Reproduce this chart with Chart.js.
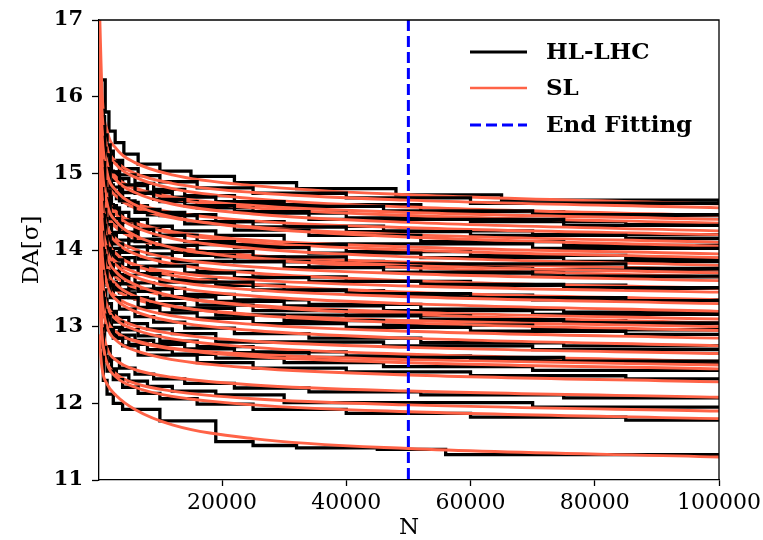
<!DOCTYPE html>
<html>
<head>
<meta charset="utf-8">
<script src="https://cdn.jsdelivr.net/npm/chart.js@4.4.0/dist/chart.umd.min.js"></script>
<style>
html, body { margin: 0; padding: 0; background: #fff; }
</style>
</head>
<body>
<canvas id="daChart" width="763" height="540"></canvas>
<script>
// Turn numbers where each SL fit curve is sampled
const N_FIT = [200, 700, 1500, 3000, 6000, 12000, 25000, 50000, 100000];
const X_TICKS = [20000, 40000, 60000, 80000, 100000];
const Y_TICKS = [11, 12, 13, 14, 15, 16, 17];
const END_FIT = 50000;

// SL fits, DA at each N_FIT point
const slCurves = [
    [17.40, 16.04, 15.56, 15.32, 15.14, 14.98, 14.84, 14.72, 14.60],
    [16.55, 15.75, 15.35, 15.15, 15.00, 14.87, 14.75, 14.65, 14.55],
    [16.65, 15.77, 15.33, 15.11, 14.95, 14.80, 14.67, 14.56, 14.45],
    [16.20, 15.48, 15.12, 14.94, 14.81, 14.69, 14.58, 14.49, 14.40],
    [16.35, 15.55, 15.15, 14.95, 14.80, 14.67, 14.55, 14.45, 14.35],
    [16.45, 15.57, 15.13, 14.91, 14.75, 14.60, 14.47, 14.36, 14.25],
    [16.00, 15.28, 14.92, 14.74, 14.61, 14.49, 14.38, 14.29, 14.20],
    [16.10, 15.30, 14.90, 14.70, 14.55, 14.42, 14.30, 14.20, 14.10],
    [16.45, 15.49, 15.01, 14.77, 14.59, 14.43, 14.29, 14.17, 14.05],
    [15.75, 15.03, 14.67, 14.49, 14.36, 14.24, 14.13, 14.04, 13.95],
    [15.90, 15.10, 14.70, 14.50, 14.35, 14.22, 14.10, 14.00, 13.90],
    [16.00, 15.12, 14.68, 14.46, 14.30, 14.15, 14.02, 13.91, 13.80],
    [15.55, 14.83, 14.47, 14.29, 14.16, 14.04, 13.93, 13.84, 13.75],
    [15.70, 14.90, 14.50, 14.30, 14.15, 14.02, 13.90, 13.80, 13.70],
    [16.05, 15.09, 14.61, 14.37, 14.19, 14.03, 13.89, 13.77, 13.65],
    [15.40, 14.68, 14.32, 14.14, 14.01, 13.89, 13.78, 13.69, 13.60],
    [15.50, 14.70, 14.30, 14.10, 13.95, 13.82, 13.70, 13.60, 13.50],
    [15.05, 14.41, 14.09, 13.93, 13.81, 13.71, 13.61, 13.53, 13.45],
    [15.35, 14.55, 14.15, 13.95, 13.80, 13.67, 13.55, 13.45, 13.35],
    [15.10, 14.38, 14.02, 13.84, 13.71, 13.59, 13.48, 13.39, 13.30],
    [15.20, 14.40, 14.00, 13.80, 13.65, 13.52, 13.40, 13.30, 13.20],
    [14.90, 14.18, 13.82, 13.64, 13.51, 13.39, 13.28, 13.19, 13.10],
    [15.25, 14.37, 13.93, 13.71, 13.55, 13.40, 13.27, 13.16, 13.05],
    [14.60, 13.96, 13.64, 13.48, 13.36, 13.26, 13.16, 13.08, 13.00],
    [14.95, 14.15, 13.75, 13.55, 13.40, 13.27, 13.15, 13.05, 12.95],
    [14.65, 13.93, 13.57, 13.39, 13.26, 13.14, 13.03, 12.94, 12.85],
    [14.75, 13.95, 13.55, 13.35, 13.20, 13.07, 12.95, 12.85, 12.75],
    [14.25, 13.61, 13.29, 13.13, 13.01, 12.91, 12.81, 12.73, 12.65],
    [14.35, 13.63, 13.27, 13.09, 12.96, 12.84, 12.73, 12.64, 12.55],
    [13.90, 13.34, 13.06, 12.92, 12.82, 12.72, 12.64, 12.57, 12.50],
    [14.05, 13.41, 13.09, 12.93, 12.81, 12.71, 12.61, 12.53, 12.45],
    [14.08, 13.36, 13.00, 12.82, 12.69, 12.57, 12.46, 12.37, 12.28],
    [13.68, 13.04, 12.72, 12.56, 12.44, 12.34, 12.24, 12.16, 12.08],
    [13.50, 12.86, 12.54, 12.38, 12.26, 12.16, 12.06, 11.98, 11.90],
    [13.60, 12.88, 12.52, 12.34, 12.21, 12.09, 11.98, 11.89, 11.80],
    [12.90, 12.45, 12.25, 12.10, 11.92, 11.72, 11.54, 11.41, 11.30]
];

// HL-LHC tracking results, [N, DA]; DA holds until the next N
const hlCurves = [
    [[500, 16.22], [1200, 15.8], [1800, 15.55], [2800, 15.4], [4200, 15.25], [6500, 15.12], [10000, 15.03], [15000, 14.96], [22000, 14.88], [32000, 14.8], [48000, 14.72], [65000, 14.65], [100000, 14.62]],
    [[500, 15.82], [900, 15.5], [1500, 15.29], [2500, 15.17], [4000, 15.06], [6500, 14.97], [10000, 14.89], [16000, 14.81], [25000, 14.74], [40000, 14.68], [60000, 14.61], [100000, 14.61]],
    [[500, 15.74], [1100, 15.37], [2000, 15.15], [3500, 14.98], [6000, 14.87], [9000, 14.79], [14000, 14.71], [22000, 14.59], [52000, 14.5], [75000, 14.45], [100000, 14.45]],
    [[500, 15.6], [800, 15.33], [1300, 15.13], [2200, 15.02], [3000, 14.93], [5000, 14.84], [8000, 14.75], [12000, 14.69], [19000, 14.63], [30000, 14.57], [46000, 14.51], [70000, 14.46], [100000, 14.46]],
    [[500, 15.56], [900, 15.24], [1500, 15.03], [2500, 14.91], [4000, 14.75], [10000, 14.63], [16000, 14.55], [25000, 14.48], [40000, 14.42], [60000, 14.37], [85000, 14.33], [100000, 14.33]],
    [[500, 15.61], [1100, 15.24], [2000, 15.02], [3500, 14.85], [6000, 14.74], [9000, 14.66], [14000, 14.58], [22000, 14.5], [34000, 14.4], [75000, 14.32], [100000, 14.32]],
    [[500, 15.34], [800, 15.07], [1300, 14.87], [2200, 14.76], [3000, 14.67], [5000, 14.58], [8000, 14.46], [19000, 14.37], [30000, 14.31], [46000, 14.25], [70000, 14.2], [100000, 14.2]],
    [[500, 15.38], [900, 15.06], [1500, 14.85], [2500, 14.73], [4000, 14.62], [6500, 14.53], [10000, 14.45], [16000, 14.37], [25000, 14.3], [40000, 14.24], [60000, 14.19], [85000, 14.15], [100000, 14.15]],
    [[500, 15.47], [1100, 15.06], [2000, 14.82], [3500, 14.64], [6000, 14.49], [14000, 14.34], [22000, 14.26], [34000, 14.19], [52000, 14.11], [75000, 14.06], [100000, 14.06]],
    [[500, 15.16], [800, 14.89], [1300, 14.69], [2200, 14.58], [3000, 14.49], [5000, 14.4], [8000, 14.31], [12000, 14.25], [19000, 14.19], [30000, 14.08], [70000, 14.02], [100000, 14.02]],
    [[500, 15.12], [900, 14.8], [1500, 14.59], [2500, 14.47], [4000, 14.36], [6500, 14.27], [10000, 14.19], [16000, 14.07], [40000, 13.98], [60000, 13.93], [85000, 13.89], [100000, 13.89]],
    [[500, 15.14], [1100, 14.77], [2000, 14.55], [3500, 14.38], [6000, 14.27], [9000, 14.19], [14000, 14.11], [22000, 14.03], [34000, 13.96], [52000, 13.9], [75000, 13.85], [100000, 13.85]],
    [[500, 14.88], [800, 14.61], [1300, 14.41], [2200, 14.23], [5000, 14.12], [8000, 14.03], [12000, 13.97], [19000, 13.91], [30000, 13.85], [46000, 13.79], [70000, 13.74], [100000, 13.74]],
    [[500, 14.99], [900, 14.67], [1500, 14.46], [2500, 14.34], [4000, 14.23], [6500, 14.14], [10000, 14.06], [16000, 13.98], [25000, 13.91], [40000, 13.82], [85000, 13.76], [100000, 13.76]],
    [[500, 15.06], [1100, 14.65], [2000, 14.41], [3500, 14.23], [6000, 14.11], [9000, 14.03], [14000, 13.93], [22000, 13.85], [34000, 13.78], [52000, 13.7], [75000, 13.65], [100000, 13.65]],
    [[500, 14.8], [800, 14.53], [1300, 14.33], [2200, 14.22], [3000, 14.13], [5000, 14.04], [8000, 13.95], [12000, 13.85], [30000, 13.77], [46000, 13.71], [70000, 13.66], [100000, 13.66]],
    [[500, 14.73], [900, 14.41], [1500, 14.2], [2500, 14.08], [4000, 13.97], [6500, 13.88], [10000, 13.8], [16000, 13.72], [25000, 13.65], [40000, 13.59], [60000, 13.54], [85000, 13.5], [100000, 13.5]],
    [[500, 14.45], [1100, 14.18], [2000, 14.02], [3500, 13.9], [6000, 13.79], [14000, 13.7], [22000, 13.64], [34000, 13.59], [52000, 13.55], [75000, 13.51], [100000, 13.51]],
    [[500, 14.62], [800, 14.32], [1300, 14.1], [2200, 13.97], [3000, 13.87], [5000, 13.77], [8000, 13.68], [12000, 13.61], [19000, 13.54], [30000, 13.47], [46000, 13.41], [70000, 13.35], [100000, 13.35]],
    [[500, 14.46], [900, 14.17], [1500, 13.98], [2500, 13.87], [4000, 13.77], [6500, 13.69], [10000, 13.58], [25000, 13.48], [40000, 13.43], [60000, 13.38], [85000, 13.34], [100000, 13.34]],
    [[500, 14.36], [1100, 14.02], [2000, 13.82], [3500, 13.67], [6000, 13.57], [9000, 13.5], [14000, 13.42], [22000, 13.35], [34000, 13.29], [52000, 13.23], [75000, 13.19], [100000, 13.19]],
    [[500, 14.3], [800, 14.03], [1300, 13.83], [2200, 13.72], [3000, 13.63], [5000, 13.49], [12000, 13.39], [19000, 13.33], [30000, 13.27], [46000, 13.21], [70000, 13.16], [100000, 13.16]],
    [[500, 14.4], [900, 14.04], [1500, 13.81], [2500, 13.68], [4000, 13.56], [6500, 13.46], [10000, 13.37], [16000, 13.28], [25000, 13.21], [40000, 13.14], [60000, 13.08], [85000, 13.04], [100000, 13.04]],
    [[500, 13.99], [1100, 13.72], [2000, 13.56], [3500, 13.44], [6000, 13.36], [9000, 13.3], [14000, 13.24], [22000, 13.15], [52000, 13.09], [75000, 13.05], [100000, 13.05]],
    [[500, 14.23], [800, 13.93], [1300, 13.71], [2200, 13.58], [3000, 13.48], [5000, 13.38], [8000, 13.29], [12000, 13.22], [19000, 13.15], [30000, 13.08], [46000, 13.02], [70000, 12.96], [100000, 12.96]],
    [[500, 14.02], [900, 13.73], [1500, 13.54], [2500, 13.38], [6500, 13.25], [10000, 13.18], [16000, 13.11], [25000, 13.04], [40000, 12.99], [60000, 12.94], [85000, 12.9], [100000, 12.9]],
    [[500, 13.92], [1100, 13.58], [2000, 13.38], [3500, 13.23], [6000, 13.13], [9000, 13.06], [14000, 12.98], [22000, 12.91], [34000, 12.85], [52000, 12.79], [75000, 12.75], [100000, 12.75]],
    [[500, 13.72], [800, 13.48], [1300, 13.3], [2200, 13.2], [3000, 13.12], [5000, 13.04], [8000, 12.97], [12000, 12.91], [19000, 12.8], [46000, 12.75], [70000, 12.7], [100000, 12.7]],
    [[500, 13.65], [900, 13.36], [1500, 13.17], [2500, 13.06], [4000, 12.96], [6500, 12.88], [10000, 12.81], [16000, 12.74], [25000, 12.67], [40000, 12.62], [60000, 12.57], [85000, 12.53], [100000, 12.53]],
    [[500, 13.37], [1100, 13.13], [2000, 12.99], [3500, 12.89], [6000, 12.82], [9000, 12.77], [14000, 12.71], [22000, 12.66], [34000, 12.6], [75000, 12.55], [100000, 12.55]],
    [[500, 13.45], [800, 13.21], [1300, 13.03], [2200, 12.93], [3000, 12.85], [5000, 12.77], [8000, 12.7], [12000, 12.64], [19000, 12.59], [30000, 12.53], [46000, 12.48], [70000, 12.43], [100000, 12.43]],
    [[500, 13.44], [900, 13.15], [1500, 12.96], [2500, 12.85], [4000, 12.75], [6500, 12.63], [16000, 12.53], [25000, 12.46], [40000, 12.41], [60000, 12.36], [85000, 12.32], [100000, 12.32]],
    [[500, 13.01], [1100, 12.74], [2000, 12.58], [3500, 12.46], [6000, 12.38], [9000, 12.32], [14000, 12.26], [22000, 12.2], [34000, 12.15], [52000, 12.11], [75000, 12.07], [100000, 12.07]],
    [[500, 12.97], [800, 12.73], [1300, 12.55], [2200, 12.45], [3000, 12.37], [5000, 12.29], [8000, 12.22], [12000, 12.16], [19000, 12.11], [30000, 12.01], [70000, 11.95], [100000, 11.95]],
    [[500, 12.9], [900, 12.61], [1500, 12.42], [2500, 12.31], [4000, 12.21], [6500, 12.13], [10000, 12.06], [16000, 11.99], [25000, 11.92], [40000, 11.87], [60000, 11.82], [85000, 11.78], [100000, 11.78]],
    [[500, 12.6], [900, 12.3], [1500, 12.12], [2500, 12.0], [4000, 11.92], [10000, 11.77], [19000, 11.5], [25000, 11.45], [32000, 11.42], [45000, 11.4], [56000, 11.33], [100000, 11.32]]
];

const BLACK = '#000000';
const TOMATO = '#ff6347';
const BLUE = '#0000ff';
const SERIF = '"DejaVu Serif", "Liberation Serif", serif';

// matplotlib draws black then red for each seed; Chart.js puts dataset 0 on top, so reverse at the end
const datasets = [];
hlCurves.forEach((steps, i) => {
    datasets.push({
        label: 'HL-LHC',
        data: steps.map(p => ({ x: p[0], y: p[1] })),
        borderColor: BLACK,
        borderWidth: 3.3,
        stepped: true,
        pointRadius: 0,
        fill: false
    });
    datasets.push({
        label: 'SL',
        data: N_FIT.map((n, j) => ({ x: n, y: slCurves[i][j] })),
        borderColor: TOMATO,
        borderWidth: 2.9,
        cubicInterpolationMode: 'monotone',
        pointRadius: 0,
        fill: false
    });
});
datasets.push({
    label: 'End Fitting',
    data: [{ x: END_FIT, y: 17 }, { x: END_FIT, y: 11 }],
    borderColor: BLUE,
    borderWidth: 3,
    borderDash: [11, 5],
    pointRadius: 0,
    fill: false
});
datasets.reverse();

// frame on top/right plus a frameless legend in the upper right
const framePlugin = {
    id: 'frameAndLegend',
    afterDraw(chart) {
        const { ctx, chartArea: a } = chart;
        ctx.save();
        ctx.strokeStyle = '#000';
        ctx.lineWidth = 1.3;
        ctx.beginPath();
        ctx.moveTo(a.left, a.top);
        ctx.lineTo(a.right, a.top);
        ctx.lineTo(a.right, a.bottom);
        ctx.stroke();

        const items = [
            { text: 'HL-LHC', color: BLACK, width: 3, dash: [] },
            { text: 'SL', color: TOMATO, width: 2.5, dash: [] },
            { text: 'End Fitting', color: BLUE, width: 3, dash: [11, 5] }
        ];
        const ys = [52, 88, 125];
        items.forEach((it, k) => {
            ctx.beginPath();
            ctx.strokeStyle = it.color;
            ctx.lineWidth = it.width;
            ctx.setLineDash(it.dash);
            ctx.moveTo(470, ys[k]);
            ctx.lineTo(527, ys[k]);
            ctx.stroke();
            ctx.setLineDash([]);
            ctx.fillStyle = '#000';
            ctx.font = 'bold 23px ' + SERIF;
            ctx.textBaseline = 'middle';
            ctx.textAlign = 'left';
            ctx.fillText(it.text, 546, ys[k] + 1);
        });
        ctx.restore();
    }
};

new Chart(document.getElementById('daChart').getContext('2d'), {
    type: 'line',
    data: { datasets: datasets },
    options: {
        responsive: false,
        animation: false,
        events: [],
        layout: { padding: { top: 20, right: 44, bottom: 0, left: 0 } },
        plugins: {
            legend: { display: false },
            tooltip: { enabled: false }
        },
        scales: {
            x: {
                type: 'linear',
                min: 200,
                max: 100000,
                afterBuildTicks: s => { s.ticks = X_TICKS.map(v => ({ value: v })); },
                afterFit: s => { s.height = 60; s.paddingLeft = 0; s.paddingRight = 0; },
                ticks: {
                    callback: v => String(v),
                    font: { family: SERIF, size: 22 },
                    color: '#000',
                    padding: 4,
                    maxRotation: 0,
                    autoSkip: false
                },
                grid: { drawOnChartArea: false, drawTicks: true, tickLength: 6, tickColor: '#000', tickWidth: 1.3 },
                border: { display: true, color: '#000', width: 1.3 },
                title: {
                    display: true,
                    text: 'N',
                    color: '#000',
                    font: { family: SERIF, size: 23, lineHeight: 1 },
                    padding: { top: 0, bottom: 0 }
                }
            },
            y: {
                min: 11,
                max: 17,
                afterBuildTicks: s => { s.ticks = Y_TICKS.map(v => ({ value: v })); },
                afterFit: s => { s.width = 99; s.paddingTop = 0; s.paddingBottom = 0; },
                ticks: {
                    callback: v => String(v),
                    font: { family: SERIF, size: 21, weight: 'bold' },
                    color: '#000',
                    padding: 9
                },
                grid: { drawOnChartArea: false, drawTicks: true, tickLength: 7, tickColor: '#000', tickWidth: 1.3 },
                border: { display: true, color: '#000', width: 1.3 },
                title: {
                    display: true,
                    text: 'DA[σ]',
                    color: '#000',
                    font: { family: SERIF, size: 23, lineHeight: 1 },
                    padding: { top: 21, bottom: 0 }
                }
            }
        }
    },
    plugins: [framePlugin]
});
</script>
</body>
</html>
